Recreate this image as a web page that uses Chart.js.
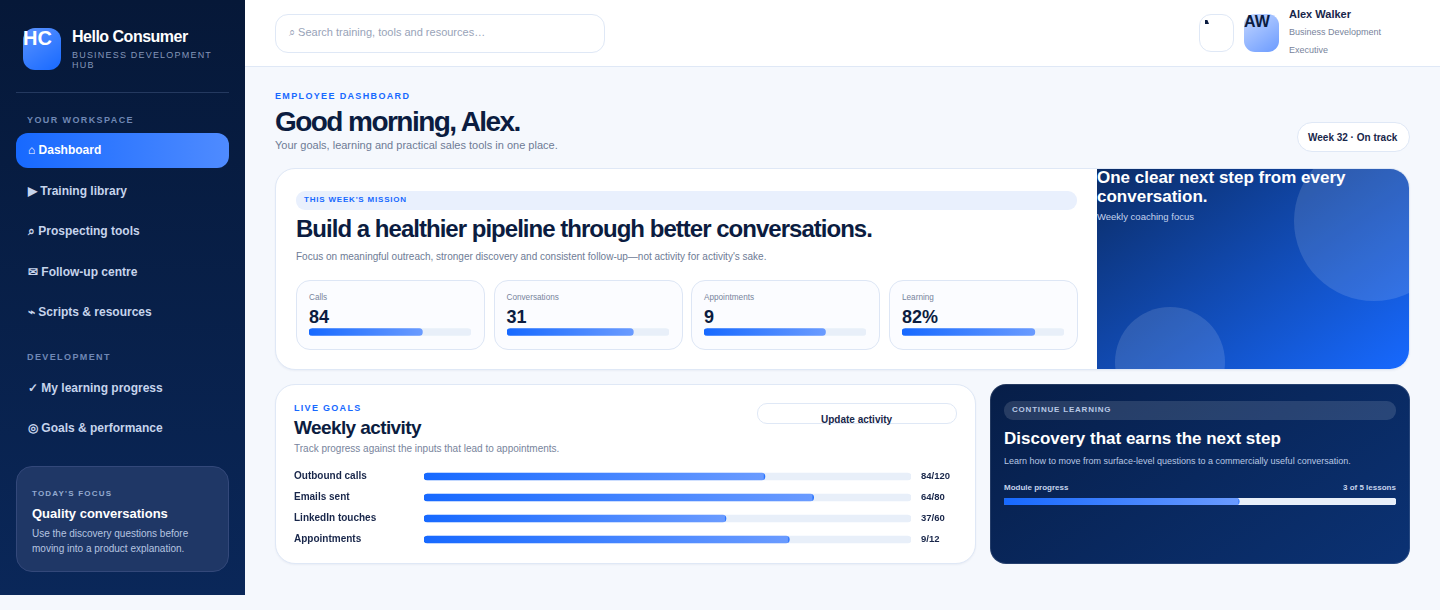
<!DOCTYPE html>
<html>
<head>
<meta charset="utf-8">
<title>Hello Consumer</title>
<script src="https://cdn.jsdelivr.net/npm/chart.js@4"></script>
<style>
* { box-sizing: border-box; margin: 0; padding: 0; }
html, body { width: 1440px; height: 610px; overflow: hidden; background: #f5f8fd; font-family: "Liberation Sans", Arial, sans-serif; color: #0b1c40; }
.a { position: absolute; white-space: nowrap; }
#sidebar { position: absolute; left: 0; top: 0; width: 245px; height: 595px; background: linear-gradient(180deg, #061838, #0a2759); }
#topbar { position: absolute; left: 245px; top: 0; width: 1195px; height: 67px; background: #fff; border-bottom: 1px solid #dfe8f6; }
.logo { left: 23px; top: 28px; width: 38px; height: 42px; border-radius: 12px; background: linear-gradient(145deg, #5b93ff, #1769ff); }
.nav { left: 28px; font-size: 12px; font-weight: 700; color: #c6d4ec; }
.navhead { left: 27px; font-size: 9px; font-weight: 700; letter-spacing: 1.4px; color: #7088b5; }
.navon { left: 16px; top: 133px; width: 213px; height: 35px; border-radius: 12px; background: linear-gradient(90deg, #1769ff, #4f8bff); }
.focus { left: 16px; top: 466px; width: 213px; height: 106px; border-radius: 16px; background: #1f3766; border: 1px solid #33487a; }
.card { position: absolute; background: #fff; border: 1px solid #dfe8f6; border-radius: 20px; box-shadow: 0 1px 2px rgba(15, 40, 90, .05); }
.tile { position: absolute; top: 280px; width: 189px; height: 70px; background: #fbfcff; border: 1px solid #dde6f5; border-radius: 14px; }
.tile b { position: absolute; left: 12px; top: 26px; font-size: 18px; color: #0b1c40; }
.tile span { position: absolute; left: 12px; top: 12px; font-size: 8.2px; color: #78849c; }
.tile canvas { position: absolute; left: 12px; top: 47px; }
canvas { display: block; }
</style>
</head>
<body>
<div id="sidebar"></div>
<div id="topbar"></div>

<div class="a logo"></div>
<div class="a" style="left:23px;top:27px;font-size:20px;font-weight:700;color:#fff">HC</div>
<div class="a" style="left:72px;top:28px;font-size:16px;font-weight:700;color:#fff;letter-spacing:-.5px">Hello Consumer</div>
<div class="a" style="left:72px;top:50px;font-size:9px;line-height:10px;letter-spacing:1.2px;color:#8496b8">BUSINESS DEVELOPMENT<br>HUB</div>
<div class="a" style="left:16px;top:92px;width:213px;height:1px;background:#24395f"></div>

<div class="a navhead" style="top:115px">YOUR WORKSPACE</div>
<div class="a navon"></div>
<div class="a nav" style="top:143px;color:#fff">⌂ Dashboard</div>
<div class="a nav" style="top:184px">▶ Training library</div>
<div class="a nav" style="top:224px">⌕ Prospecting tools</div>
<div class="a nav" style="top:265px">✉ Follow-up centre</div>
<div class="a nav" style="top:305px">⌁ Scripts &amp; resources</div>
<div class="a navhead" style="top:352px">DEVELOPMENT</div>
<div class="a nav" style="top:381px">✓ My learning progress</div>
<div class="a nav" style="top:421px">◎ Goals &amp; performance</div>

<div class="a focus"></div>
<div class="a" style="left:32px;top:489px;font-size:8px;font-weight:700;letter-spacing:1.2px;color:#93a9cf">TODAY'S FOCUS</div>
<div class="a" style="left:32px;top:506px;font-size:13px;font-weight:700;color:#fff">Quality conversations</div>
<div class="a" style="left:32px;top:526px;font-size:10px;line-height:15px;color:#b6c5e0">Use the discovery questions before<br>moving into a product explanation.</div>

<div class="a" style="left:275px;top:14px;width:330px;height:39px;background:#fff;border:1px solid #dfe8f6;border-radius:13px"></div>
<div class="a" style="left:289px;top:26px;font-size:11px;color:#98a3b8">⌕ Search training, tools and resources…</div>
<div class="a" style="left:1199px;top:14px;width:35px;height:38px;background:#fff;border:1px solid #dfe8f6;border-radius:12px"></div>
<div class="a" style="left:1205px;top:20px;width:4px;height:4px;background:#0b1c40;clip-path:polygon(0 0,60% 0,100% 100%,0 100%)"></div>
<div class="a" style="left:1244px;top:14px;width:35px;height:38px;border-radius:11px;background:linear-gradient(145deg,#c3d6ff,#6b9bff)"></div>
<div class="a" style="left:1244px;top:13px;font-size:16px;font-weight:700;color:#0b1c40">AW</div>
<div class="a" style="left:1289px;top:8px;font-size:11px;font-weight:700;color:#18264a">Alex Walker</div>
<div class="a" style="left:1289px;top:23px;font-size:9px;line-height:18px;color:#78849c">Business Development<br>Executive</div>

<div class="a" style="left:275px;top:91px;font-size:9px;font-weight:700;letter-spacing:1.35px;color:#1769ff">EMPLOYEE DASHBOARD</div>
<div class="a" style="left:275px;top:106px;font-size:28px;font-weight:700;letter-spacing:-1.55px;color:#0b1c40">Good morning, Alex.</div>
<div class="a" style="left:275px;top:139px;font-size:11px;color:#6e7b95">Your goals, learning and practical sales tools in one place.</div>
<div class="a" style="left:1297px;top:122px;width:113px;height:30px;background:#fff;border:1px solid #dfe8f6;border-radius:15px"></div>
<div class="a" style="left:1308px;top:132px;font-size:10px;font-weight:700;color:#18264a">Week 32 · On track</div>

<div class="card" style="left:275px;top:168px;width:1135px;height:202px"></div>
<div class="a" style="left:1097px;top:169px;width:312px;height:200px;overflow:hidden;border-radius:0 19px 19px 0;background:linear-gradient(145deg,#0b2c66,#1769ff)">
  <div style="position:absolute;left:197px;top:-28px;width:160px;height:160px;border-radius:50%;background:rgba(255,255,255,.13)"></div>
  <div style="position:absolute;left:18px;top:138px;width:110px;height:110px;border-radius:50%;background:rgba(255,255,255,.13)"></div>
</div>
<div class="a" style="left:1097px;top:168px;font-size:17px;line-height:19px;font-weight:700;color:#fff">One clear next step from every<br>conversation.</div>
<div class="a" style="left:1097px;top:211px;font-size:9.5px;color:#c3d3ee">Weekly coaching focus</div>

<div class="a" style="left:296px;top:191px;width:781px;height:19px;border-radius:9px;background:#e9f0fd"></div>
<div class="a" style="left:304px;top:195px;font-size:8px;font-weight:700;letter-spacing:.8px;color:#1769ff">THIS WEEK'S MISSION</div>
<div class="a" style="left:296px;top:215px;font-size:24px;font-weight:700;letter-spacing:-.98px;color:#0b1c40">Build a healthier pipeline through better conversations.</div>
<div class="a" style="left:296px;top:251px;font-size:10px;color:#6e7b95">Focus on meaningful outreach, stronger discovery and consistent follow-up—not activity for activity's sake.</div>

<div id="tiles"></div>

<div class="card" style="left:275px;top:384px;width:701px;height:180px"></div>
<div class="a" style="left:294px;top:403px;font-size:9px;font-weight:700;letter-spacing:1.3px;color:#1769ff">LIVE GOALS</div>
<div class="a" style="left:294px;top:417px;font-size:19px;font-weight:700;letter-spacing:-.6px;color:#0b1c40">Weekly activity</div>
<div class="a" style="left:294px;top:443px;font-size:10px;color:#78849c">Track progress against the inputs that lead to appointments.</div>
<div class="a" style="left:757px;top:403px;width:200px;height:21px;background:#fff;border:1px solid #dfe8f6;border-radius:10px"></div>
<div class="a" style="left:821px;top:414px;font-size:10px;font-weight:700;color:#18264a">Update activity</div>
<canvas id="goalChart" class="a" style="left:294px;top:466px"></canvas>

<div class="a" style="left:990px;top:384px;width:420px;height:180px;border-radius:16px;border:1px solid rgba(255,255,255,.12);background:linear-gradient(145deg,#071e48,#0b3274) border-box"></div>
<div class="a" style="left:1004px;top:401px;width:392px;height:19px;border-radius:9px;background:rgba(255,255,255,.13)"></div>
<div class="a" style="left:1012px;top:405px;font-size:8px;font-weight:700;letter-spacing:.8px;color:#b8c8e4">CONTINUE LEARNING</div>
<div class="a" style="left:1004px;top:429px;font-size:17px;font-weight:700;color:#fff">Discovery that earns the next step</div>
<div class="a" style="left:1004px;top:456px;font-size:9px;color:#b8c8e4">Learn how to move from surface-level questions to a commercially useful conversation.</div>
<div class="a" style="left:1004px;top:483px;font-size:8px;font-weight:700;color:#c6d4ec">Module progress</div>
<div class="a" style="left:1343px;top:483px;font-size:8px;font-weight:700;color:#c6d4ec">3 of 5 lessons</div>
<canvas id="moduleChart" class="a" style="left:1004px;top:498px"></canvas>

<script>
// card values
const metricLabels = ['Calls', 'Conversations', 'Appointments', 'Learning'];
const metricValues = ['84', '31', '9', '82%'];
const metricFill = [70, 78, 75, 82];
const metricLeft = [296, 493.5, 691, 889];

// weekly activity
const goalLabels = ['Outbound calls', 'Emails sent', 'LinkedIn touches', 'Appointments'];
const goalFill = [70, 80, 62, 75];
const goalText = ['84/120', '64/80', '37/60', '9/12'];

// module progress
const moduleLabels = ['Module progress'];
const moduleFill = [60];

const trackColor = '#e8eff9';

// gradient runs along each filled bar, not the whole track
function fillGradient(c, tip) {
    const chart = c.chart;
    if (!chart.chartArea || c.raw === undefined) return '#1769ff';
    const x0 = chart.scales.x.getPixelForValue(0);
    const x1 = chart.scales.x.getPixelForValue(c.raw);
    const g = chart.ctx.createLinearGradient(x0, 0, x1, 0);
    g.addColorStop(0, '#1769ff');
    if (tip) {
        // the goal bars end in a tiny darker tip
        g.addColorStop(0.995, '#6a9bff');
        g.addColorStop(1, '#1769ff');
    } else {
        g.addColorStop(1, '#6a9bff');
    }
    return g;
}

function progressChart(canvas, labels, fill, thickness, tip, scales) {
    return new Chart(canvas, {
        type: 'bar',
        data: {
            labels: labels,
            datasets: [
                { data: fill, backgroundColor: c => fillGradient(c, tip), grouped: false, barThickness: thickness, borderRadius: 4, borderSkipped: false },
                { data: labels.map(() => 100), backgroundColor: trackColor, grouped: false, barThickness: thickness, borderRadius: 4, borderSkipped: false },
            ],
        },
        options: {
            indexAxis: 'y',
            responsive: false,
            animation: false,
            layout: { padding: 0 },
            plugins: { legend: { display: false }, tooltip: { enabled: false } },
            scales: scales || {
                x: { display: false, min: 0, max: 100 },
                y: { display: false },
            },
        },
    });
}

// tiles
const tiles = document.getElementById('tiles');
metricLabels.forEach((label, i) => {
    const tile = document.createElement('div');
    tile.className = 'tile';
    tile.style.left = metricLeft[i] + 'px';
    tile.innerHTML = `<span>${label}</span><b>${metricValues[i]}</b><canvas width="162" height="8"></canvas>`;
    tiles.appendChild(tile);
    progressChart(tile.querySelector('canvas'), [label], [metricFill[i]], 7, false);
});

// weekly activity chart, labels come from its own axes
const goalCanvas = document.getElementById('goalChart');
goalCanvas.width = 662;
goalCanvas.height = 84;
const tickFamily = '"Liberation Sans", Arial, sans-serif';
progressChart(goalCanvas, goalLabels, goalFill, 7, true, {
    x: { display: false, min: 0, max: 100 },
    y: {
        position: 'left',
        grid: { display: false },
        border: { display: false },
        afterFit: s => { s.width = 130; s.paddingTop = 0; s.paddingBottom = 0; },
        ticks: { color: '#18264a', font: { family: tickFamily, size: 10, weight: 'bold' }, crossAlign: 'far', padding: 0, autoSkip: false },
    },
    y2: {
        position: 'right',
        type: 'category',
        labels: goalText,
        grid: { display: false },
        border: { display: false },
        afterFit: s => { s.width = 45; s.paddingTop = 0; s.paddingBottom = 0; },
        ticks: { color: '#18264a', font: { family: tickFamily, size: 9.5, weight: 'bold' }, padding: 2, autoSkip: false },
    },
});

const moduleCanvas = document.getElementById('moduleChart');
moduleCanvas.width = 392;
moduleCanvas.height = 7;
progressChart(moduleCanvas, moduleLabels, moduleFill, 7, true);
</script>
</body>
</html>
